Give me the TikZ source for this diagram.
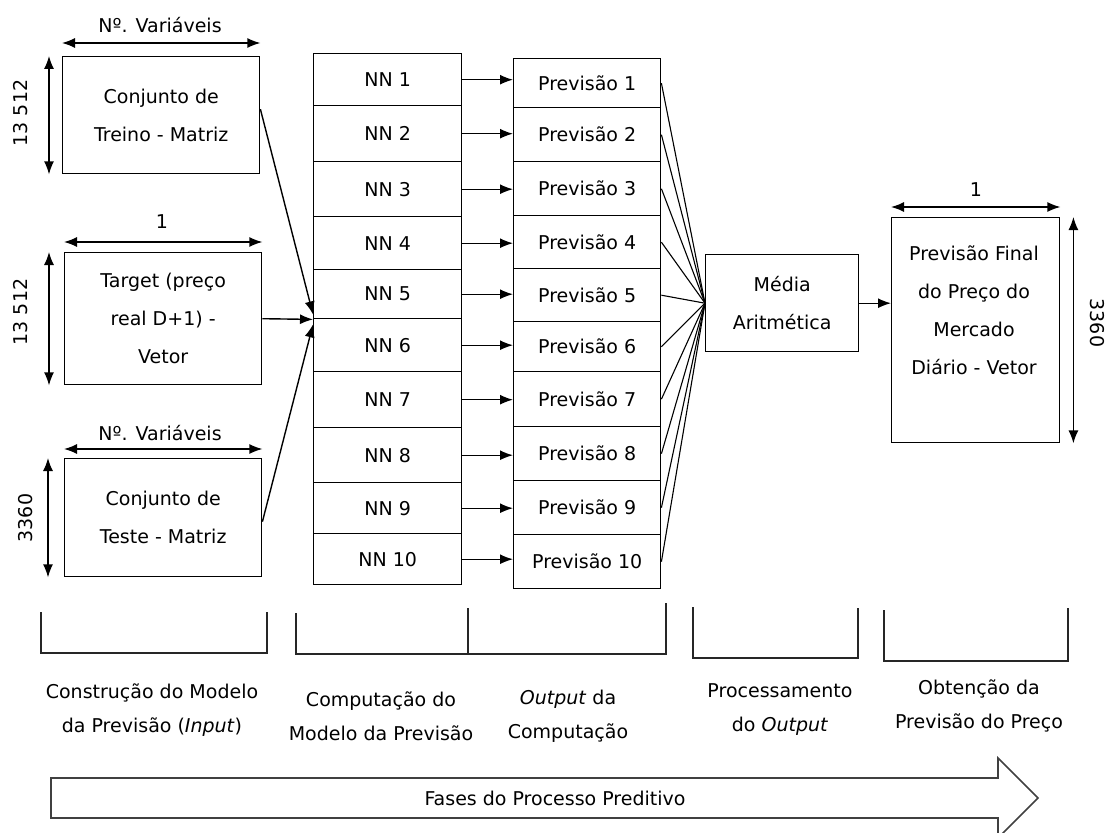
\documentclass[tikz,border=0pt]{standalone}
\usepackage{fontspec}
\setmainfont{DejaVu Sans}
\usetikzlibrary{arrows.meta}
\begin{document}
\begin{tikzpicture}[x=1pt,y=-1pt,
  every node/.style={font=\fontsize{19}{38}\selectfont, inner sep=0pt},
  box/.style={draw, line width=1.4pt, anchor=north west, align=center},
  cell/.style={draw, line width=1.4pt, anchor=north west},
  arr/.style={line width=1.4pt, -{Latex[length=13pt,width=10pt]}},
  dim/.style={line width=1.4pt, {Latex[length=13pt,width=10pt]}-{Latex[length=13pt,width=10pt]}},
  fan/.style={line width=1.1pt},
  bracket/.style={line width=1.4pt, draw=black!85},
  phase/.style={align=center, font=\fontsize{19}{34}\selectfont},
  bigarrow/.style={line width=1.6pt, draw=black!75},
]
\clip (0,0) rectangle (1110,832);

% input data sets
\node[box, minimum width=197pt, minimum height=117pt] (b1) at (62,56) {Conjunto de\\Treino - Matriz};
\node[box, minimum width=197pt, minimum height=132pt] (b2) at (64,252) {Target (preço\\real D+1) -\\Vetor};
\node[box, minimum width=197pt, minimum height=118pt] (b3) at (64,458) {Conjunto de\\Teste - Matriz};

% dimensions of the data sets
\draw[dim] ([yshift=13pt]b1.north west) -- ([yshift=13pt]b1.north east);
\node (d1w) at (160,25) {Nº. Variáveis};
\draw[dim] ([xshift=-13pt]b1.north west) -- ([xshift=-13pt]b1.south west);
\node[rotate=90] (d1h) at (21,113) {13 512};

\draw[dim] ([yshift=10pt]b2.north west) -- ([yshift=10pt]b2.north east);
\node (d2w) at (162,222) {1};
\draw[dim] ([xshift=-15pt]b2.north west) -- ([xshift=-15pt]b2.south west);
\node[rotate=90] (d2h) at (21,312) {13 512};

\draw[dim] ([yshift=9pt]b3.north west) -- ([yshift=9pt]b3.north east);
\node (d3w) at (160,433) {Nº. Variáveis};
\draw[dim] ([xshift=-16pt]b3.north west) -- ([xshift=-16pt]b3.south west);
\node[rotate=90] (d3h) at (26,518) {3360};

% neural networks and their forecasts
\foreach \i/\t/\b in {1/53/105, 2/105/161, 3/161/216, 4/216/269, 5/269/318,
                      6/318/371, 7/371/427, 8/427/482, 9/482/533, 10/533/584}
  \node[cell, minimum width=148pt, minimum height={(\b-\t)*1pt}] (nn\i) at (313,\t) {NN \i};
\foreach \i/\t/\b in {1/58/107, 2/107/161, 3/161/215, 4/215/268, 5/268/321,
                      6/321/371, 7/371/426, 8/426/480, 9/480/534, 10/534/588}
  \node[cell, minimum width=147pt, minimum height={(\b-\t)*1pt}] (pv\i) at (513,\t) {Previsão \i};
\foreach \i in {1,...,10}
  \draw[arr] (nn\i.east) -- (nn\i.east -| pv\i.west);

% data sets feed the networks
\coordinate (join) at (nn5.south west);
\draw[arr] ([yshift=6pt]b1.east) -- ([yshift=5pt]join);
\draw[arr] (b2.east) -- (join);
\draw[arr] ([yshift=-4pt]b3.east) -- ([yshift=-5pt]join);

% averaging
\node[box, minimum width=153pt, minimum height=97pt] (media) at (705,254) {Média\\Aritmética};
\foreach \i in {1,...,10}
  \draw[fan] (pv\i.east) -- (media.west);

% final forecast
\node[box, minimum width=168pt, minimum height=225pt] (final) at (891,217) {};
\node[align=center] (ftext) at (974,310) {Previsão Final\\do Preço do\\Mercado\\Diário - Vetor};
\draw[arr] (media.east) -- (media.east -| final.west);
\draw[dim] ([yshift=10pt]final.north west) -- ([yshift=10pt]final.north east);
\node (d4w) at (976,190) {1};
\draw[dim] ([xshift=13pt]final.north east) -- ([xshift=13pt]final.south east);
\node[rotate=-90] (d4h) at (1097,323) {3360};

% phase brackets
\draw[bracket] (41,612) -- (41,653) -- (267,653) -- (267,612);
\draw[bracket] (296,613) -- (296,654) -- (666,654) -- (666,603);
\draw[bracket] (468,608) -- (468,654);
\draw[bracket] (693,607) -- (693,658) -- (858,658) -- (858,608);
\draw[bracket] (884,610) -- (884,661) -- (1068,661) -- (1068,608);

% phase labels
\node[phase] (ph1) at (152,710) {Construção do Modelo\\da Previsão (\textit{Input})};
\node[phase] (ph2) at (381,716) {Computação do\\Modelo da Previsão};
\node[phase] (ph3) at (568,716) {\textit{Output} da\\Computação};
\node[phase] (ph4) at (780,710) {Processamento\\do \textit{Output}};
\node[phase] (ph5) at (979,706) {Obtenção da\\Previsão do Preço};

% process direction
\draw[bigarrow] (51,778) -- (998,778) -- (998,758) -- (1038,798) -- (998,838)
  -- (998,818) -- (51,818) -- cycle;
\node (fases) at (555,798) {Fases do Processo Preditivo};
\end{tikzpicture}
\end{document}
